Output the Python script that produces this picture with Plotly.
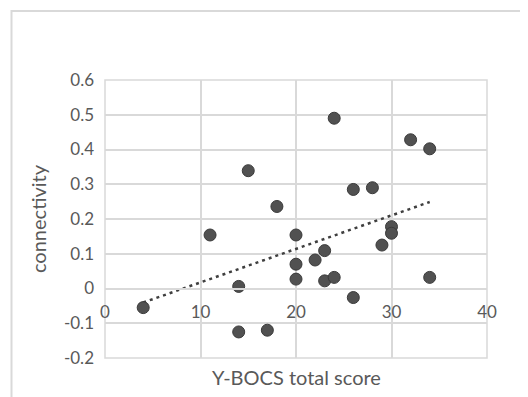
import numpy as np
import plotly.graph_objects as go

# Data
ybocs = [4, 11, 14, 14, 15, 17, 18, 20, 20, 20, 22, 23, 23, 24, 24, 26, 26, 28, 29, 30, 30, 32, 34, 34]
connectivity = [-0.055, 0.154, 0.006, -0.125, 0.339, -0.12, 0.236, 0.154, 0.070, 0.027, 0.082, 0.109,
                0.022, 0.032, 0.49, 0.285, -0.026, 0.29, 0.125, 0.178, 0.159, 0.428, 0.402, 0.032]
x_ticks = [0, 10, 20, 30, 40]
y_ticks = [-0.2, -0.1, 0, 0.1, 0.2, 0.3, 0.4, 0.5, 0.6]
y_tick_text = ["-0.2", "-0.1", "0", "0.1", "0.2", "0.3", "0.4", "0.5", "0.6"]

# Linear trendline (least squares) over the data
slope, intercept = np.polyfit(ybocs, connectivity, 1)
tx = np.array([min(ybocs), max(ybocs)])
ty = slope * tx + intercept

FONT = "Lato"
GRID = "#d9d9d9"
TXT = "#595959"

# page body has an 8px margin; figure is sized so the page matches 528x397
W, H = 520, 389
ML, MR, MT, MB = 97, 41, 72, 39
PW, PH = W - ML - MR, H - MT - MB

fig = go.Figure()
fig.add_trace(go.Scatter(
    x=tx, y=ty, mode="lines",
    line=dict(color="#3f3f3f", width=2.5, dash="3px,4px"),
    hoverinfo="skip", showlegend=False,
))
fig.add_trace(go.Scatter(
    x=ybocs, y=connectivity, mode="markers",
    marker=dict(size=12, color="#515151", line=dict(color="#3a3a3a", width=1)),
    showlegend=False,
))

fig.update_layout(
    width=W, height=H,
    margin=dict(l=ML, r=MR, t=MT, b=MB, autoexpand=False),
    paper_bgcolor="white", plot_bgcolor="white",
    font=dict(family=FONT, size=17, color=TXT),
    xaxis=dict(
        range=[0, 40], tickvals=x_ticks, showgrid=True, gridcolor=GRID, gridwidth=1.5,
        zeroline=False, showline=True, linecolor=GRID, linewidth=1.5,
        anchor="free", position=0.25, ticks="", fixedrange=True,
        ticklabelstandoff=8,
        tickfont=dict(family=FONT, size=17, color=TXT),
    ),
    yaxis=dict(
        range=[-0.2, 0.6], tickvals=y_ticks, ticktext=y_tick_text,
        showgrid=True, gridcolor=GRID, gridwidth=1.5,
        zeroline=False, showline=False, ticks="", fixedrange=True,
        ticklabelstandoff=10,
        tickfont=dict(family=FONT, size=17, color=TXT),
    ),
    shapes=[
        dict(type="rect", xref="x domain", yref="y domain", x0=0, x1=1, y0=0, y1=1,
             line=dict(color=GRID, width=1.5), layer="below"),
        dict(type="rect", xref="paper", yref="paper",
             x0=(3.5 - ML) / PW, x1=2, y0=-1, y1=(MT + PH - 3) / PH,
             line=dict(color="#d9d9d9", width=2), layer="below"),
    ],
    annotations=[
        dict(text="Y-BOCS total score", xref="paper", yref="paper", x=0.5, y=0,
             yshift=-19, xanchor="center", yanchor="middle", showarrow=False,
             font=dict(family=FONT, size=20, color=TXT)),
        dict(text="connectivity", xref="paper", yref="paper", x=0, y=0.5,
             xshift=-67, xanchor="center", yanchor="middle", textangle=-90, showarrow=False,
             font=dict(family=FONT, size=20, color=TXT)),
    ],
)

fig.write_html("out.html")
